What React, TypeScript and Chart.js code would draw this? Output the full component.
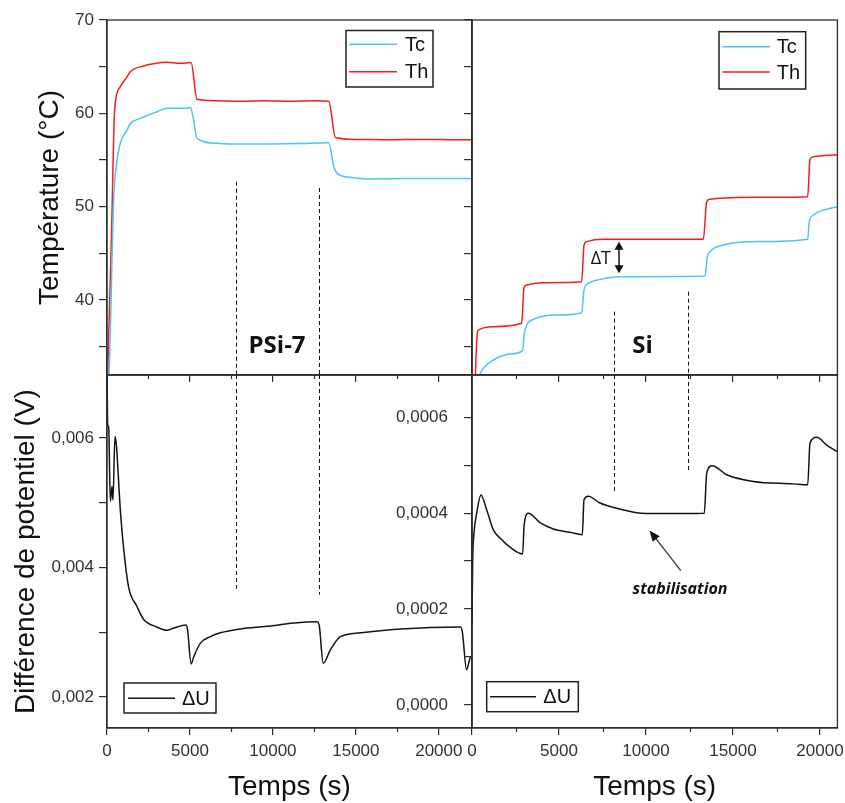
import React, { useEffect, useRef } from 'react';
import { Chart, registerables } from 'chart.js';

Chart.register(...registerables);

// ---------------- DATA ----------------
// PSi-7 (left panels), time in s
const PSI_TH_TIME = [0, 97, 199, 302, 362, 440, 561, 802, 1206, 1405, 2208, 2800, 3619, 4400, 5066, 5428, 6500, 8000, 9500, 11000, 12500, 13366, 13770, 15000, 17000, 19000, 21000, 22000];
const PSI_TH_VAL = [28, 36, 42.1, 49.3, 54.3, 59.6, 61.8, 62.85, 63.9, 64.45, 65.07, 65.3, 65.46, 65.35, 65.45, 61.5, 61.35, 61.3, 61.35, 61.3, 61.35, 61.3, 57.4, 57.2, 57.15, 57.2, 57.15, 57.15];

const PSI_TC_TIME = [0, 110, 199, 302, 398, 561, 802, 1206, 1405, 2008, 3016, 3619, 4825, 5024, 5187, 5428, 6634, 7636, 9500, 11500, 13366, 13667, 13872, 14674, 15682, 18000, 22000];
const PSI_TC_VAL = [25, 31, 36.4, 44.3, 50.7, 54.3, 56.8, 58.2, 58.9, 59.45, 60.17, 60.53, 60.53, 60.64, 59.6, 57.3, 56.78, 56.7, 56.7, 56.75, 56.85, 54.3, 53.56, 53.13, 52.95, 53.0, 53.0];

const PSI_DU_TIME = [0, 40, 100, 200, 300, 360, 480, 560, 800, 1000, 1300, 1800, 2200, 3000, 3600, 4000, 4750, 4850, 5070, 5230, 5630, 6230, 6830, 8040, 9650, 11250, 12670, 12800, 13030, 13470, 14070, 15280, 17700, 21300, 21420, 21670, 21900, 22000];
const PSI_DU_VAL = [0.0072, 0.0062, 0.00617, 0.00502, 0.00525, 0.00504, 0.00602, 0.0059, 0.0049, 0.0043, 0.0037, 0.0034, 0.0032, 0.00308, 0.00303, 0.00306, 0.00311, 0.00305, 0.00251, 0.00262, 0.00283, 0.00293, 0.00299, 0.00305, 0.00309, 0.00314, 0.00316, 0.00309, 0.00252, 0.00273, 0.00293, 0.00299, 0.00305, 0.00308, 0.003, 0.00242, 0.00261, 0.00262];

// Si (right panels)
const SI_TH_TIME = [0, 150, 305, 364, 1226, 2854, 2990, 3142, 4100, 6303, 6437, 6590, 7548, 13295, 13488, 13678, 16552, 19293, 19425, 19617, 21000];
const SI_TH_VAL = [25, 30, 36.44, 36.76, 37.12, 37.48, 41.3, 41.6, 41.84, 41.94, 45.88, 46.24, 46.49, 46.49, 50.52, 50.78, 50.99, 51.06, 55.07, 55.35, 55.56];

const SI_TC_TIME = [300, 460, 651, 1226, 2184, 2912, 3008, 3142, 3525, 4866, 6303, 6437, 6686, 7356, 8506, 13391, 13525, 13678, 14443, 16552, 19293, 19385, 19617, 20190, 21000];
const SI_TC_VAL = [30.5, 32, 32.66, 33.55, 34.19, 34.55, 36.4, 37.3, 37.9, 38.37, 38.62, 41.05, 41.77, 42.19, 42.48, 42.55, 44.63, 45.16, 45.88, 46.24, 46.49, 48.37, 49.09, 49.63, 49.98];

const SI_DU_TIME = [0, 40, 115, 268, 517, 843, 1226, 1609, 2184, 2912, 2989, 3238, 3908, 4674, 5632, 6341, 6437, 6686, 7356, 8314, 9466, 10805, 13352, 13487, 13812, 14638, 16167, 18467, 19293, 19425, 19810, 20385, 21000];
const SI_DU_VAL = [0.00017, 0.0003, 0.000358, 0.0004, 0.000438, 0.000407, 0.000365, 0.000348, 0.000329, 0.000315, 0.000372, 0.0004, 0.00038, 0.000367, 0.00036, 0.000355, 0.000428, 0.000435, 0.000421, 0.00041, 0.000401, 0.000399, 0.0004, 0.000483, 0.000499, 0.00048, 0.000466, 0.000461, 0.000459, 0.000546, 0.000558, 0.000542, 0.000528];

// ticks & ranges
const TIME_TICKS = [0, 5000, 10000, 15000, 20000];
const TIME_MINOR_TICKS = [2500, 7500, 12500, 17500];
const TEMP_TICKS = [35, 40, 45, 50, 55, 60, 65, 70];
const TEMP_LABELED = [40, 50, 60, 70];
const PSI_DU_TICKS = [0.002, 0.003, 0.004, 0.005, 0.006];
const PSI_DU_LABELED = [0.002, 0.004, 0.006];
const SI_DU_TICKS = [0, 0.0001, 0.0002, 0.0003, 0.0004, 0.0005, 0.0006];
const SI_DU_LABELED = [0, 0.0002, 0.0004, 0.0006];

const PSI_TIME_MAX = 22000;
const SI_TIME_MAX = 21000;
const TEMP_MIN = 31.94;
const TEMP_MAX = 70;
const PSI_DU_MIN = 0.00152;
const PSI_DU_MAX = 0.00697;
const SI_DU_MIN = -0.000048;
const SI_DU_MAX = 0.000688;

// annotations (data coordinates)
const PSI_DASH_TIMES = [7750, 12800];
const PSI_DASH_TOP_T = [52.66, 51.99];
const PSI_DASH_BOTTOM_U = [0.00367, 0.00358];
const SI_DASH_TIMES = [8150, 12400];
const SI_DASH_TOP_T = [38.73, 40.87];
const SI_DASH_BOTTOM_U = [0.000445, 0.000488];
const PSI_LABEL = { text: 'PSi-7', t: 10250, y: 35 };
const SI_LABEL = { text: 'Si', t: 9800, y: 35 };
const DT_ARROW = { t: 8450, top: 46.23, bottom: 42.84 };
const STAB_ARROW = { tailT: 12000, tailU: 0.00028, headT: 10200, headU: 0.000364 };
const STAB_TEXT = { text: 'stabilisation', t: 11954, u: 0.00024 };

// ---------------- STYLE ----------------
const TC_COLOR = '#4cc6f2';
const TH_COLOR = '#f41c1c';
const DU_COLOR = '#141414';
const AXIS = '#2e2e2e';
const SANS = "'Liberation Sans', Arial, sans-serif";
const TICK_FONT = { family: SANS, size: 17 };
const TITLE_FONT = { family: SANS, size: 28, lineHeight: 1 };

const pts = (t: number[], v: number[]) => t.map((x, i) => ({ x, y: v[i] }));

function fixedSize(size: number, horizontal: boolean) {
  return (s: any) => {
    if (horizontal) s.height = size;
    else s.width = size;
    s.paddingLeft = 0;
    s.paddingRight = 0;
    s.paddingTop = 0;
    s.paddingBottom = 0;
  };
}

function setTicks(values: number[]) {
  return (s: any) => {
    s.ticks = values.map((v) => ({ value: v }));
  };
}

function xScale(max: number, showLabels: boolean, title: string, height: number) {
  return {
    type: 'linear',
    position: 'bottom',
    min: 0,
    max,
    afterBuildTicks: setTicks(TIME_TICKS),
    afterFit: fixedSize(height, true),
    grid: { display: true, drawOnChartArea: false, drawTicks: true, tickLength: 7, color: AXIS, lineWidth: 1.2 },
    border: { display: true, color: AXIS, width: 1.3 },
    ticks: {
      display: showLabels,
      autoSkip: false,
      maxRotation: 0,
      padding: 6,
      color: '#333',
      font: TICK_FONT,
      callback: (v: number) => String(v),
    },
    title: { display: !!title, text: title, color: '#111', font: TITLE_FONT, padding: 0 },
  };
}

function yScale(
  min: number,
  max: number,
  ticks: number[],
  labeled: number[] | null,
  fmt: (v: number) => string,
  title: string,
  width: number,
  pad: number,
) {
  return {
    type: 'linear',
    position: 'left',
    min,
    max,
    afterBuildTicks: setTicks(ticks),
    afterFit: fixedSize(width, false),
    grid: { display: true, drawOnChartArea: false, drawTicks: true, tickLength: 8, color: AXIS, lineWidth: 1.2 },
    border: { display: true, color: AXIS, width: 1.3 },
    ticks: {
      display: !!labeled,
      autoSkip: false,
      padding: pad,
      color: '#333',
      font: TICK_FONT,
      callback: (v: number) => (labeled && labeled.includes(v) ? fmt(v) : ''),
    },
    title: { display: !!title, text: title, color: '#111', font: TITLE_FONT, padding: 0 },
  };
}

type LegendSpec = {
  x: number; y: number; w: number; h: number;
  rows: { label: string; color: string; dy: number }[];
  lx0: number; lx1: number; tx: number;
};

function drawLegend(ctx: CanvasRenderingContext2D, s: LegendSpec) {
  ctx.save();
  ctx.strokeStyle = '#222';
  ctx.lineWidth = 1.5;
  ctx.strokeRect(s.x, s.y, s.w, s.h);
  ctx.font = `20px ${SANS}`;
  ctx.textBaseline = 'middle';
  ctx.textAlign = 'left';
  for (const r of s.rows) {
    ctx.strokeStyle = r.color;
    ctx.lineWidth = 1.6;
    ctx.beginPath();
    ctx.moveTo(s.x + s.lx0, s.y + r.dy);
    ctx.lineTo(s.x + s.lx1, s.y + r.dy);
    ctx.stroke();
    ctx.fillStyle = '#111';
    ctx.fillText(r.label, s.x + s.tx, s.y + r.dy + 1);
  }
  ctx.restore();
}

function drawFrame(chart: any) {
  const { ctx, chartArea: a, scales } = chart;
  ctx.save();
  ctx.strokeStyle = AXIS;
  ctx.lineWidth = 1.3;
  ctx.strokeRect(a.left, a.top, a.right - a.left, a.bottom - a.top);
  // minor time ticks (shorter than major ones)
  ctx.lineWidth = 1.2;
  ctx.beginPath();
  for (const t of TIME_MINOR_TICKS) {
    const x = Math.round(scales.x.getPixelForValue(t)) + 0.5;
    ctx.moveTo(x, a.bottom);
    ctx.lineTo(x, a.bottom + 4);
  }
  ctx.stroke();
  ctx.restore();
}

function dashed(ctx: CanvasRenderingContext2D, x: number, y0: number, y1: number) {
  ctx.save();
  ctx.strokeStyle = '#111';
  ctx.lineWidth = 1;
  ctx.setLineDash([4, 3]);
  ctx.beginPath();
  ctx.moveTo(Math.round(x) + 0.5, y0);
  ctx.lineTo(Math.round(x) + 0.5, y1);
  ctx.stroke();
  ctx.restore();
}

function triangle(ctx: CanvasRenderingContext2D, tipX: number, tipY: number, fromX: number, fromY: number, len: number, half: number) {
  const ang = Math.atan2(tipY - fromY, tipX - fromX);
  const bx = tipX - Math.cos(ang) * len;
  const by = tipY - Math.sin(ang) * len;
  const px = -Math.sin(ang) * half;
  const py = Math.cos(ang) * half;
  ctx.beginPath();
  ctx.moveTo(tipX, tipY);
  ctx.lineTo(bx + px, by + py);
  ctx.lineTo(bx - px, by - py);
  ctx.closePath();
  ctx.fill();
}

function lineDs(label: string, t: number[], v: number[], color: string) {
  return {
    label,
    data: pts(t, v),
    borderColor: color,
    backgroundColor: color,
    borderWidth: 1.5,
    pointRadius: 0,
    fill: false,
    cubicInterpolationMode: 'monotone',
  };
}

function baseOptions(padding: any, scales: any) {
  return {
    animation: false,
    responsive: false,
    devicePixelRatio: 1,
    events: [],
    layout: { padding },
    plugins: { legend: { display: false }, tooltip: { enabled: false }, title: { display: false } },
    scales,
  };
}

const W = 845;
const H = 803;

function buildConfigs(): any[] {
  const fmtTemp = (v: number) => String(v);
  const fmtPsi = (v: number) => v.toFixed(3).replace('.', ',');
  const fmtSi = (v: number) => v.toFixed(4).replace('.', ',');

  const tl = {
    type: 'line',
    data: { datasets: [lineDs('Tc', PSI_TC_TIME, PSI_TC_VAL, TC_COLOR), lineDs('Th', PSI_TH_TIME, PSI_TH_VAL, TH_COLOR)] },
    options: baseOptions(
      { left: 36, top: 20, right: W - 472, bottom: H - 375 - 10 },
      {
        x: xScale(PSI_TIME_MAX, false, '', 10),
        y: yScale(TEMP_MIN, TEMP_MAX, TEMP_TICKS, TEMP_LABELED, fmtTemp, 'Température (°C)', 71, 5),
      },
    ),
    plugins: [
      {
        id: 'tlOverlay',
        afterDraw(chart: any) {
          const { ctx, chartArea: a, scales } = chart;
          drawFrame(chart);
          PSI_DASH_TIMES.forEach((t, i) => dashed(ctx, scales.x.getPixelForValue(t), scales.y.getPixelForValue(PSI_DASH_TOP_T[i]), a.bottom));
          ctx.save();
          ctx.fillStyle = '#111';
          ctx.font = "bold 24px 'Open Sans', sans-serif";
          ctx.textAlign = 'center';
          ctx.textBaseline = 'middle';
          ctx.fillText(PSI_LABEL.text, scales.x.getPixelForValue(PSI_LABEL.t), scales.y.getPixelForValue(PSI_LABEL.y));
          ctx.restore();
          drawLegend(ctx, {
            x: a.right - 126, y: a.top + 10.5, w: 87, h: 56.5,
            rows: [{ label: 'Tc', color: TC_COLOR, dy: 13.8 }, { label: 'Th', color: TH_COLOR, dy: 41.2 }],
            lx0: 3, lx1: 51, tx: 59,
          });
        },
      },
    ],
  };

  const tr = {
    type: 'line',
    data: { datasets: [lineDs('Tc', SI_TC_TIME, SI_TC_VAL, TC_COLOR), lineDs('Th', SI_TH_TIME, SI_TH_VAL, TH_COLOR)] },
    options: baseOptions(
      { left: 462, top: 20, right: W - 837.4, bottom: H - 375 - 10 },
      {
        x: xScale(SI_TIME_MAX, false, '', 10),
        y: yScale(TEMP_MIN, TEMP_MAX, TEMP_TICKS, null, fmtTemp, '', 10, 5),
      },
    ),
    plugins: [
      {
        id: 'trOverlay',
        afterDraw(chart: any) {
          const { ctx, chartArea: a, scales } = chart;
          drawFrame(chart);
          SI_DASH_TIMES.forEach((t, i) => dashed(ctx, scales.x.getPixelForValue(t), scales.y.getPixelForValue(SI_DASH_TOP_T[i]), a.bottom));
          ctx.save();
          ctx.fillStyle = '#111';
          ctx.font = "bold 24px 'Open Sans', sans-serif";
          ctx.textAlign = 'center';
          ctx.textBaseline = 'middle';
          ctx.fillText(SI_LABEL.text, scales.x.getPixelForValue(SI_LABEL.t), scales.y.getPixelForValue(SI_LABEL.y));
          // delta T arrow
          const ax = scales.x.getPixelForValue(DT_ARROW.t);
          const y1 = scales.y.getPixelForValue(DT_ARROW.top);
          const y2 = scales.y.getPixelForValue(DT_ARROW.bottom);
          ctx.strokeStyle = '#111';
          ctx.lineWidth = 1.5;
          ctx.beginPath();
          ctx.moveTo(ax, y1 + 6);
          ctx.lineTo(ax, y2 - 6);
          ctx.stroke();
          triangle(ctx, ax, y1, ax, y2, 8, 4.5);
          triangle(ctx, ax, y2, ax, y1, 8, 4.5);
          ctx.font = "18px 'Open Sans', sans-serif";
          ctx.textAlign = 'right';
          ctx.fillText('ΔT', ax - 8, (y1 + y2) / 2 + 1);
          ctx.restore();
          drawLegend(ctx, {
            x: a.right - 118.4, y: a.top + 11.7, w: 86.7, h: 57.3,
            rows: [{ label: 'Tc', color: TC_COLOR, dy: 15 }, { label: 'Th', color: TH_COLOR, dy: 40.3 }],
            lx0: 3.3, lx1: 51, tx: 57.7,
          });
        },
      },
    ],
  };

  const bl = {
    type: 'line',
    data: { datasets: [lineDs('ΔU', PSI_DU_TIME, PSI_DU_VAL, DU_COLOR)] },
    options: baseOptions(
      { left: 12, top: 375, right: W - 472, bottom: 2 },
      {
        x: xScale(PSI_TIME_MAX, true, 'Temps (s)', 73),
        y: yScale(PSI_DU_MIN, PSI_DU_MAX, PSI_DU_TICKS, PSI_DU_LABELED, fmtPsi, 'Différence de potentiel (V)', 95, 5),
      },
    ),
    plugins: [
      {
        id: 'blOverlay',
        afterDraw(chart: any) {
          const { ctx, chartArea: a, scales } = chart;
          drawFrame(chart);
          PSI_DASH_TIMES.forEach((t, i) => dashed(ctx, scales.x.getPixelForValue(t), a.top, scales.y.getPixelForValue(PSI_DASH_BOTTOM_U[i])));
          drawLegend(ctx, {
            x: a.left + 17, y: a.bottom - 45, w: 92, h: 30,
            rows: [{ label: 'ΔU', color: DU_COLOR, dy: 15.3 }],
            lx0: 4, lx1: 51, tx: 58,
          });
        },
      },
    ],
  };

  const br = {
    type: 'line',
    data: { datasets: [lineDs('ΔU', SI_DU_TIME, SI_DU_VAL, DU_COLOR)] },
    options: baseOptions(
      { left: 360, top: 375, right: W - 837.4, bottom: 2 },
      {
        x: xScale(SI_TIME_MAX, true, 'Temps (s)', 73),
        y: yScale(SI_DU_MIN, SI_DU_MAX, SI_DU_TICKS, SI_DU_LABELED, fmtSi, '', 112, 16),
      },
    ),
    plugins: [
      {
        id: 'brOverlay',
        afterDraw(chart: any) {
          const { ctx, chartArea: a, scales } = chart;
          drawFrame(chart);
          SI_DASH_TIMES.forEach((t, i) => dashed(ctx, scales.x.getPixelForValue(t), a.top, scales.y.getPixelForValue(SI_DASH_BOTTOM_U[i])));
          // stabilisation arrow
          const tx = scales.x.getPixelForValue(STAB_ARROW.tailT);
          const ty = scales.y.getPixelForValue(STAB_ARROW.tailU);
          const hx = scales.x.getPixelForValue(STAB_ARROW.headT);
          const hy = scales.y.getPixelForValue(STAB_ARROW.headU);
          ctx.save();
          ctx.strokeStyle = '#333';
          ctx.fillStyle = '#111';
          ctx.lineWidth = 1.3;
          const ang = Math.atan2(hy - ty, hx - tx);
          ctx.beginPath();
          ctx.moveTo(tx, ty);
          ctx.lineTo(hx - Math.cos(ang) * 8, hy - Math.sin(ang) * 8);
          ctx.stroke();
          triangle(ctx, hx, hy, tx, ty, 11, 4.5);
          ctx.font = "italic bold 16px 'Open Sans', sans-serif";
          ctx.textAlign = 'center';
          ctx.textBaseline = 'middle';
          ctx.fillText(STAB_TEXT.text, scales.x.getPixelForValue(STAB_TEXT.t), scales.y.getPixelForValue(STAB_TEXT.u));
          ctx.restore();
          drawLegend(ctx, {
            x: a.left + 14.7, y: a.bottom - 46.3, w: 91.6, h: 30,
            rows: [{ label: 'ΔU', color: DU_COLOR, dy: 15 }],
            lx0: 3.3, lx1: 49.3, tx: 56.6,
          });
        },
      },
    ],
  };

  return [tl, tr, bl, br];
}

export default function App() {
  const r0 = useRef<HTMLCanvasElement>(null);
  const r1 = useRef<HTMLCanvasElement>(null);
  const r2 = useRef<HTMLCanvasElement>(null);
  const r3 = useRef<HTMLCanvasElement>(null);
  const refs = [r0, r1, r2, r3];

  useEffect(() => {
    const cfgs = buildConfigs();
    const charts = refs.map((r, i) => new Chart(r.current as HTMLCanvasElement, cfgs[i]));
    return () => charts.forEach((c) => c.destroy());
  }, []);

  return (
    <div style={{ position: 'absolute', left: 0, top: 0, width: W, height: H, background: '#fff', overflow: 'hidden' }}>
      {refs.map((r, i) => (
        <canvas key={i} ref={r} width={W} height={H} style={{ position: 'absolute', left: 0, top: 0, width: W, height: H }} />
      ))}
    </div>
  );
}
